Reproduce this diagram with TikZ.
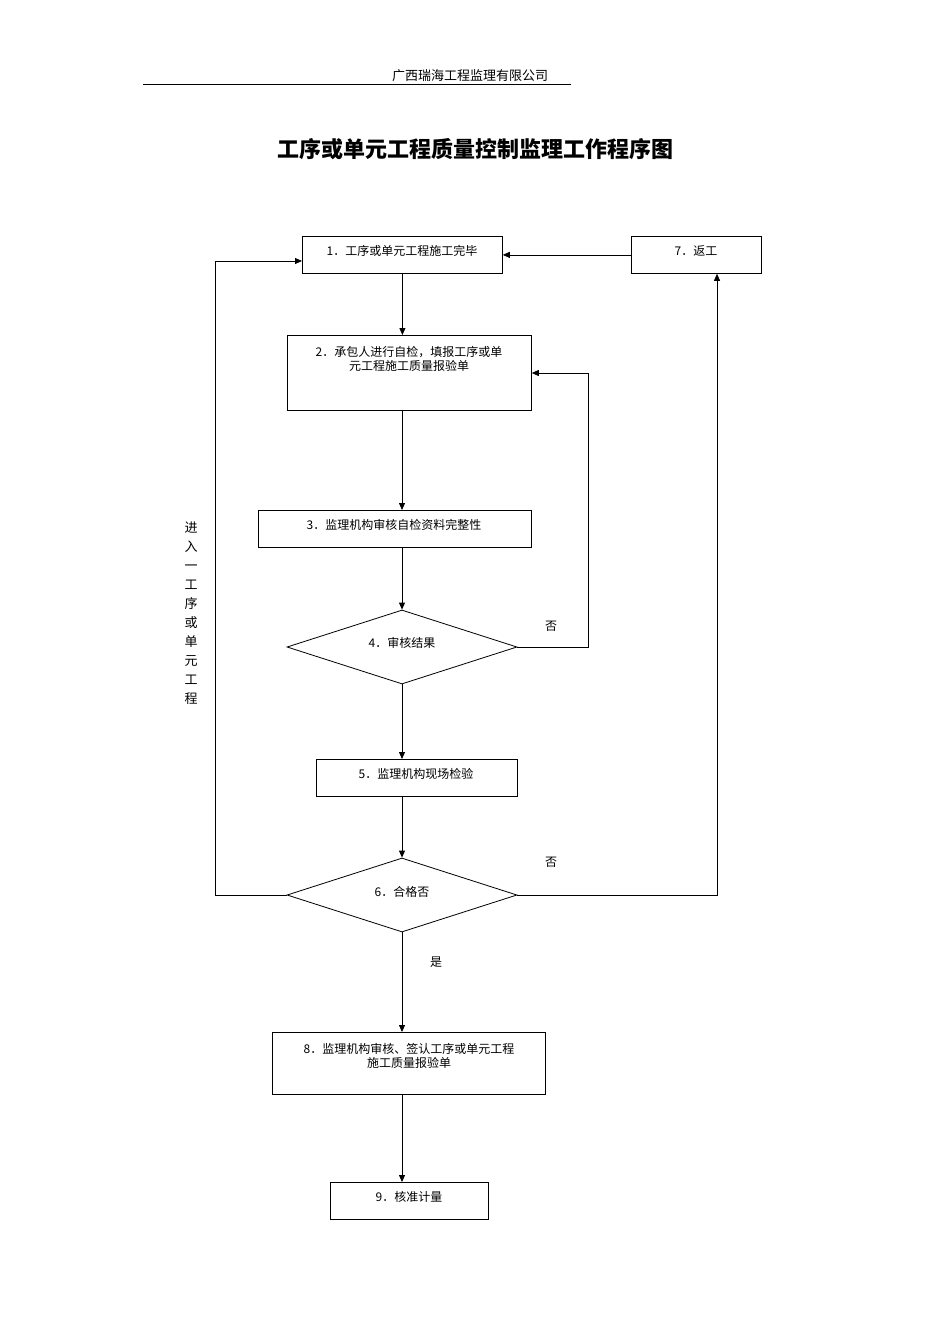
\documentclass[tikz,border=0pt]{standalone}
\usepackage{fontspec}
\newfontfamily\cjk{Noto Sans CJK SC}
\usetikzlibrary{shapes.geometric,arrows.meta}
\begin{document}
\begin{tikzpicture}[x=1pt,y=-1pt,
  box/.style={draw,thick,inner sep=0,anchor=north west},
  t/.style={font=\cjk\fontsize{12}{14}\selectfont,align=center},
  arr/.style={-{Triangle[length=7pt,width=6pt]},thick}]
\useasboundingbox (0,0) rectangle (950,1344);
\node[t,font=\cjk\fontsize{13}{15}\selectfont] (hd) at (470,76) {广西瑞海工程监理有限公司};
\draw (143,84) -- (571,84);
\node[t,font=\cjk\bfseries\fontsize{22}{26}\selectfont] (title) at (475,149) {工序或单元工程质量控制监理工作程序图};
% boxes
\node[box,minimum width=200,minimum height=37] (b1) at (302,236) {};
\node[t] at (402,251) {1．工序或单元工程施工完毕};
\node[box,minimum width=130,minimum height=37] (b7) at (631,236) {};
\node[t] at (696,251) {7．返工};
\node[box,minimum width=244,minimum height=75] (b2) at (287,335) {};
\node[t] at (409,359) {2．承包人进行自检，填报工序或单\\元工程施工质量报验单};
\node[box,minimum width=273,minimum height=37] (b3) at (258,510) {};
\node[t] at (394,525) {3．监理机构审核自检资料完整性};
\node[draw,thick,diamond,aspect=3.1,minimum width=230,minimum height=74,inner sep=0] (d4) at (402,647) {};
\node[t] at (402,643) {4．审核结果};
\node[box,minimum width=201,minimum height=37] (b5) at (316,759) {};
\node[t] at (416,774) {5．监理机构现场检验};
\node[draw,thick,diamond,aspect=3.1,minimum width=230,minimum height=74,inner sep=0] (d6) at (402,895) {};
\node[t] at (402,892) {6．合格否};
\node[box,minimum width=273,minimum height=62] (b8) at (272,1032) {};
\node[t] at (409,1056) {8．监理机构审核、签认工序或单元工程\\施工质量报验单};
\node[box,minimum width=158,minimum height=37] (b9) at (330,1182) {};
\node[t] at (409,1197) {9．核准计量};
% coordinates
\coordinate (c4a) at (588,647); \coordinate (c4b) at (588,373);
\coordinate (c6a) at (717,895); \coordinate (c6b) at (215,895); \coordinate (c6c) at (215,261);
\draw[arr] (b1.south) -- (b2.north -| b1.south);
\draw[arr] (402,410) -- (402,510);
\draw[arr] (402,547) -- (d4.north);
\draw[arr] (d4.south) -- (402,759);
\draw[arr] (402,796) -- (d6.north);
\draw[arr] (d6.south) -- (402,1032);
\draw[arr] (402,1094) -- (b9.north -| 402,1094);
\draw[arr] (d4.east) -- (c4a) -- (c4b) -- (b2.east |- c4b);
\draw[arr] (d6.east) -- (c6a) -- (c6a |- b7.south);
\draw[arr] (d6.west) -- (c6b) -- (c6c) -- (b1.west |- c6c);
\draw[arr] (b7.west) -- (b1.east);
\node[t] at (551,626) {否};
\node[t] at (551,862) {否};
\node[t] at (436,962) {是};
\node[t,font=\cjk\fontsize{13}{19}\selectfont] at (191,613) {进\\入\\一\\工\\序\\或\\单\\元\\工\\程};
\end{tikzpicture}
\end{document}
